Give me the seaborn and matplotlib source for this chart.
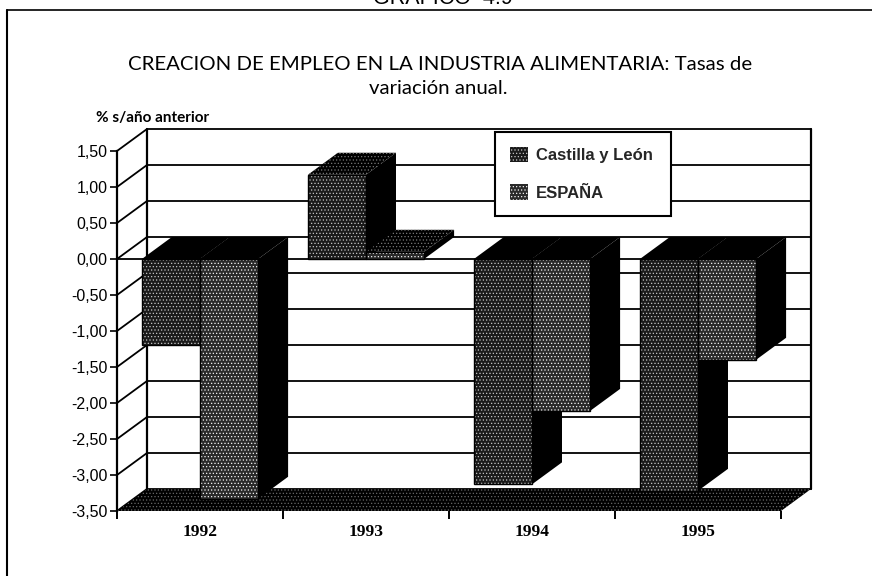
import matplotlib
matplotlib.use("Agg")
import matplotlib.pyplot as plt
from matplotlib.lines import Line2D
from matplotlib.patches import Patch, Rectangle
import pandas as pd
import seaborn as sns

# Datos del grafico
years = ["1992", "1993", "1994", "1995"]
castilla = [-1.20, 1.17, -3.13, -3.22]
espana = [-3.33, 0.10, -2.11, -1.40]
series_names = ["Castilla y León", "ESPAÑA"]
y_ticks = [1.5, 1.0, 0.5, 0.0, -0.5, -1.0, -1.5, -2.0, -2.5, -3.0, -3.5]
y_labels = ["1,50", "1,00", "0,50", "0,00", "-0,50", "-1,00", "-1,50", "-2,00", "-2,50", "-3,00", "-3,50"]

W, H = 872, 576
DEPTH_X = 30 / 166  # profundidad del efecto 3D, en unidades de categoria
DEPTH_Y = 22 / 72   # idem, en unidades de valor

df = pd.DataFrame({
    "anio": years * 2,
    "valor": castilla + espana,
    "serie": [series_names[0]] * 4 + [series_names[1]] * 4,
})

sns.set_style("white")
plt.rcParams["hatch.linewidth"] = 0.5
fig = plt.figure(figsize=(W / 100, H / 100), dpi=100)
ax = fig.add_axes([117 / W, 1 - 511 / H, (781 - 117) / W, (511 - 151) / H])

sns.barplot(data=df, x="anio", y="valor", hue="serie", width=0.7, gap=0, saturation=1,
            palette=["#1a1a1a", "#2a2a2a"], legend=False, ax=ax)
ax.set_xlim(-0.5, 3.5)
ax.set_ylim(-3.5, 1.5)

x0, x1 = -0.5, 3.5
y0, y1 = -3.5, 1.5

# Suelo y paredes
ax.fill([x0, x1, x1 + DEPTH_X, x0 + DEPTH_X], [y0, y0, y0 + DEPTH_Y, y0 + DEPTH_Y],
        facecolor="black", edgecolor="#666666", hatch=".....", lw=0, zorder=2, clip_on=False)
for t in y_ticks:
    ax.plot([x0, x0 + DEPTH_X, x1 + DEPTH_X], [t, t + DEPTH_Y, t + DEPTH_Y],
            color="black", lw=1.3, zorder=1, clip_on=False)
for xw in [x0 + DEPTH_X, x1 + DEPTH_X]:
    ax.plot([xw, xw], [y0 + DEPTH_Y, y1 + DEPTH_Y], color="black", lw=1.6, zorder=1, clip_on=False)
ax.plot([x0, x1], [0, 0], color="black", lw=1.3, zorder=2)

# Caras laterales y superiores a partir de las barras
for bar in ax.patches[:8]:
    left, w = bar.get_x(), bar.get_width()
    right = left + w
    val = bar.get_height()
    low, high = min(val, 0), max(val, 0)
    ax.fill([right, right + DEPTH_X, right + DEPTH_X, right],
            [low, low + DEPTH_Y, high + DEPTH_Y, high],
            color="black", lw=0, zorder=3, clip_on=False)
    if val > 0:
        top_style = dict(facecolor="black", edgecolor="#777777", hatch=".....", lw=0)
    else:
        top_style = dict(color="black", lw=0)
    ax.fill([left, right, right + DEPTH_X, left + DEPTH_X],
            [high, high, high + DEPTH_Y, high + DEPTH_Y],
            zorder=3.5, clip_on=False, **top_style)

# Trama de las caras frontales
for i, bar in enumerate(ax.patches[:8]):
    col = "#c4c4c4" if i < 4 else "#f4f4f4"
    bar.set_edgecolor(col)
    bar.set_linewidth(0)
    bar.set_hatch(".....")
    bar.set_zorder(4)
    ax.add_patch(Rectangle((bar.get_x(), bar.get_y()), bar.get_width(), bar.get_height(),
                           fill=False, ec="black", lw=1.0, zorder=4.5))

# Ejes
sns.despine(ax=ax, top=True, right=True, bottom=True)
ax.spines["left"].set_linewidth(1.6)
ax.spines["left"].set_color("black")
ax.set_yticks(y_ticks, y_labels)
ax.set_xticks(range(len(years)), years)
ax.set_xticks([x0, 0.5, 1.5, 2.5, x1], minor=True)
ax.tick_params(axis="y", length=5, width=1.2, left=True, pad=2, labelsize=11.5, color="black",
               labelcolor="black")
ax.tick_params(axis="x", which="major", length=0, pad=9, labelsize=12.5, labelcolor="black")
ax.tick_params(axis="x", which="minor", length=6, width=1.4, bottom=True, color="black")
for lab in ax.get_yticklabels():
    lab.set_fontfamily("Liberation Sans")
for lab in ax.get_xticklabels():
    lab.set_fontfamily("Liberation Serif")
    lab.set_fontweight("bold")
ax.set_xlabel("")
ax.set_ylabel("")
ax.patch.set_visible(False)

# Leyenda
handles = [
    Patch(facecolor="#1a1a1a", edgecolor="#c4c4c4", hatch=".....", lw=0, label=series_names[0]),
    Patch(facecolor="#2a2a2a", edgecolor="#f4f4f4", hatch=".....", lw=0, label=series_names[1]),
]
leg = ax.legend(handles=handles, loc="upper left",
                bbox_to_anchor=(495 / W, 1 - 212 / H, 176 / W, 80 / H), mode="expand",
                bbox_transform=fig.transFigure, frameon=True, fancybox=False, framealpha=1,
                edgecolor="black", borderaxespad=0, handlelength=1.1, handleheight=1.05,
                labelspacing=1.25, handletextpad=0.45, borderpad=0.9,
                prop={"family": "Liberation Sans", "weight": "bold", "size": 12})
leg.get_frame().set_linewidth(1.5)
leg.set_zorder(6)

# Textos y marco
tx = dict(ha="center", va="center", color="black", family="Lato")
fig.text(440 / W, 1 - 65 / H, "CREACION DE EMPLEO EN LA INDUSTRIA ALIMENTARIA: Tasas de", fontsize=14.7, **tx)
fig.text(438 / W, 1 - 89 / H, "variación anual.", fontsize=14.7, **tx)
fig.text(96 / W, 1 - 118 / H, "% s/año anterior", ha="left", va="center", color="black",
         family="Lato", fontsize=11, fontweight="bold")
fig.text(443 / W, 1 - (-2) / H, "GRAFICO  4.9", ha="center", va="center", color="black",
         family="Liberation Sans", fontsize=15.5)
fig.add_artist(Line2D([7 / W, 1], [1 - 10 / H, 1 - 10 / H], color="black", lw=1.2))
fig.add_artist(Line2D([7 / W, 7 / W], [1 - 10 / H, 0], color="black", lw=1.5))

fig.savefig("out.png", dpi=100, facecolor="white")
